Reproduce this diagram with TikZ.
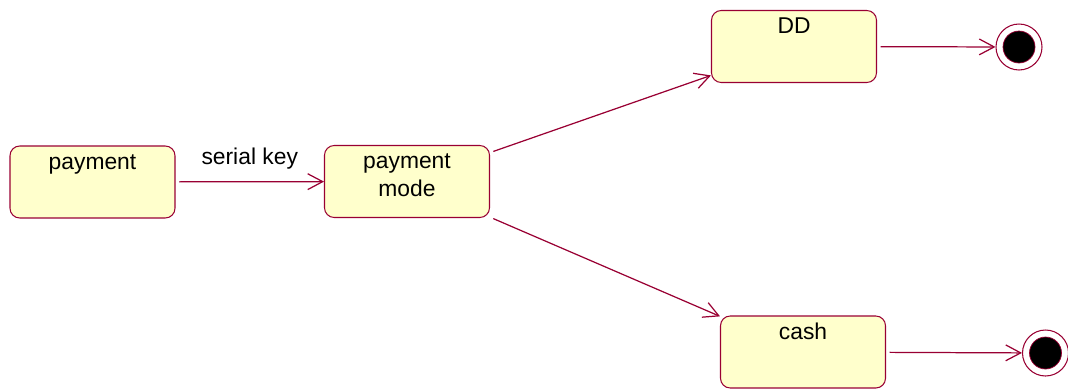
\documentclass[tikz,border=0pt]{standalone}
\usepackage{fontspec}
\setmainfont{Liberation Sans}
\usetikzlibrary{arrows.meta}
\definecolor{umlred}{HTML}{990033}
\definecolor{umlfill}{HTML}{FFFFCC}

\begin{document}
\begin{tikzpicture}[
  x=0.02cm,y=-0.02cm,
  font=\fontsize{13}{15.9}\selectfont,
  state/.style={draw=umlred,fill=umlfill,rounded corners=5.5pt,line width=0.6pt,minimum width=3.3cm,minimum height=1.44cm,inner sep=0pt},
  title/.style={anchor=north,yshift=-3.9pt,align=center,inner sep=0pt,text height=9.5pt},
  final/.style={circle,draw=umlred,fill=white,line width=0.6pt,minimum size=0.92cm,inner sep=0pt,
    path picture={\filldraw[fill=black,draw=umlred,line width=0.4pt] (path picture bounding box.center) circle (0.32cm);}},
  trans/.style={draw=umlred,line width=0.7pt,-{Straight Barb[length=8.5pt,width=9pt]}}
]
  \useasboundingbox (0,0) rectangle (1068,389);

  \node[state,label={[title]north:payment}] (payment) at (92.5,182) {};
  \node[state,label={[title,text height=25.4pt]north:{payment\\mode}}] (mode) at (407,181.5) {};
  \node[state,label={[title]north:DD}] (dd) at (794,46.5) {};
  \node[state,label={[title]north:cash}] (cash) at (803,352) {};
  \node[final] (ddend) at (1019,47) {};
  \node[final] (cashend) at (1045.5,353) {};

  \draw[trans,shorten <=2pt] (payment) -- node[anchor=base,yshift=9.6pt,inner sep=0pt]{serial key} (mode);
  \draw[trans,shorten <=2pt] (mode) -- (dd);
  \draw[trans,shorten <=2pt] (mode) -- (cash);
  \draw[trans,shorten <=2pt] (dd) -- (ddend);
  \draw[trans,shorten <=2pt] (cash) -- (cashend);
\end{tikzpicture}
\end{document}
